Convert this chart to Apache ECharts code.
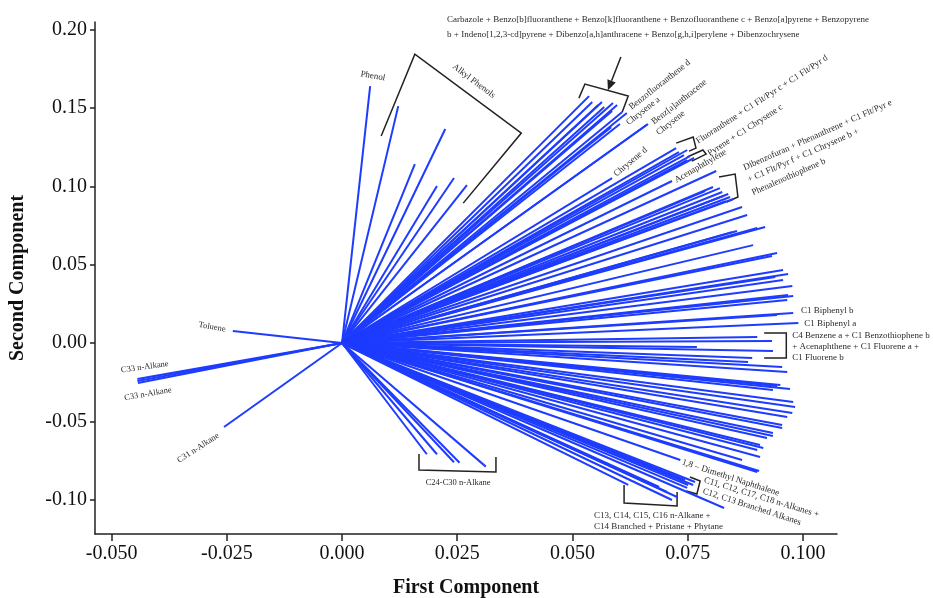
<!DOCTYPE html>
<html><head><meta charset="utf-8">
<script src="https://cdn.jsdelivr.net/npm/echarts@6/dist/echarts.min.js"></script>
<style>html,body{margin:0;padding:0;background:#fff}#c{width:933px;height:598px}</style>
</head><body><div id="c"></div>
<script>
// Loadings [First Component, Second Component]
const tolueneAndHeavyAlkanes = [[-0.0237,0.0077],[-0.0444,-0.0230],[-0.0444,-0.0243],[-0.0443,-0.0255],[-0.0256,-0.0536]];
const phenols = [[0.0061,0.1640],[0.0122,0.1512],[0.0224,0.1366],[0.0158,0.1142],[0.0206,0.1002],[0.0243,0.1053],[0.0271,0.1008]];
const c24c30Alkanes = [[0.0184,-0.0710],[0.0206,-0.0710],[0.0243,-0.0761],[0.0255,-0.0764],[0.0312,-0.0789]];
const heavyPAHs = [[0.0536,0.1576],[0.0543,0.1538],[0.0556,0.1519],[0.0564,0.1538],[0.0569,0.1506],[0.0588,0.1532],[0.0597,0.1519],[0.0586,0.1481],[0.0608,0.1474],[0.0618,0.1468],[0.0603,0.1398],[0.0664,0.1398],[0.0662,0.1395],[0.0584,0.1378],[0.0586,0.1053]];
const midPAHs = [[0.0725,0.1244],[0.0731,0.1219],[0.0749,0.1232],[0.0742,0.1200],[0.0755,0.1193],[0.0749,0.1168],[0.0764,0.1181],[0.0716,0.1034],[0.0812,0.1098],[0.0788,0.0970],[0.0805,0.0996],[0.0820,0.0989],[0.0825,0.0964],[0.0838,0.0951],[0.0842,0.0932],[0.0827,0.0938],[0.0849,0.0919],[0.0833,0.0906]];
const lightAromatics = [[0.0868,0.0868],[0.0879,0.0817],[0.0857,0.0715],[0.0846,0.0708],[0.0918,0.0740],[0.0901,0.0734],[0.0892,0.0625],[0.0944,0.0574],[0.0933,0.0555],[0.0957,0.0466],[0.0940,0.0421],[0.0968,0.0440],[0.0957,0.0402],[0.0977,0.0364],[0.0968,0.0306],[0.0979,0.0300],[0.0966,0.0274],[0.0979,0.0191],[0.0944,0.0179],[0.0990,0.0128],[0.0901,0.0038],[0.0933,0.0013],[0.0770,-0.0026],[0.0935,-0.0051],[0.0890,-0.0096],[0.0881,-0.0121],[0.0955,-0.0153],[0.0966,-0.0185],[0.0951,-0.0268],[0.0944,-0.0274],[0.0972,-0.0294],[0.0935,-0.0300],[0.0979,-0.0377],[0.0983,-0.0408],[0.0977,-0.0447],[0.0966,-0.0472],[0.0955,-0.0523],[0.0955,-0.0542],[0.0935,-0.0574],[0.0935,-0.0593],[0.0922,-0.0606],[0.0907,-0.0651],[0.0914,-0.0670],[0.0901,-0.0683],[0.0907,-0.0727],[0.0868,-0.0747],[0.0905,-0.0817],[0.0901,-0.0823],[0.0734,-0.0747]];
const lightAlkanes = [[0.0744,-0.0874],[0.0751,-0.0906],[0.0762,-0.0906],[0.0766,-0.0887],[0.0749,-0.0925],[0.0829,-0.1053],[0.0621,-0.0906],[0.0688,-0.0919],[0.0705,-0.0951],[0.0716,-0.1002],[0.0727,-0.0983]];

const xTicks = [-0.05,-0.025,0,0.025,0.05,0.075,0.1];
const yTicks = [-0.10,-0.05,0,0.05,0.10,0.15,0.20];

// Annotations (data coordinates)
const brackets = [
 [[0.0085,0.1321],[0.0158,0.1844],[0.0389,0.1340],[0.0263,0.0893]],
 [[0.0514,0.1563],[0.0527,0.1653],[0.0621,0.1576],[0.0608,0.1474]],
 [[0.0725,0.1276],[0.0762,0.1315],[0.0768,0.1244],[0.0753,0.1225]],
 [[0.0749,0.1187],[0.0783,0.1232],[0.0790,0.1206],[0.0759,0.1161]],
 [[0.0818,0.1059],[0.0853,0.1078],[0.0859,0.0932],[0.0835,0.0900]],
 [[0.0916,0.0064],[0.0964,0.0064],[0.0964,-0.0096],[0.0916,-0.0096]],
 [[0.0755,-0.0855],[0.0777,-0.0881],[0.0770,-0.0964],[0.0747,-0.0944]],
 [[0.0612,-0.0906],[0.0612,-0.1021],[0.0727,-0.1040],[0.0727,-0.0951]],
 [[0.0167,-0.0708],[0.0167,-0.0810],[0.0334,-0.0823],[0.0334,-0.0727]]
];
const labels = [
 ['Phenol',0.0067,0.1704,-10,'center',9],
 ['Alkyl Phenols',0.0286,0.1672,-37,'center',9],
 ['Carbazole + Benzo[b]fluoranthene + Benzo[k]fluoranthene + Benzofluoranthene c + Benzo[a]pyrene + Benzopyrene',0.0228,0.2061,0,'left',9],
 ['b + Indeno[1,2,3-cd]pyrene + Dibenzo[a,h]anthracene + Benzo[g,h,i]perylene + Dibenzochrysene',0.0228,0.1966,0,'left',9],
 ['Benzofluoranthene d',0.0625,0.1500,38,'left',9],
 ['Chrysene a',0.0619,0.1402,38,'left',9],
 ['Benz[a]anthracene',0.0674,0.1406,38,'left',9],
 ['Chrysene',0.0684,0.1338,38,'left',9],
 ['Chrysene d',0.0592,0.1072,40,'left',9],
 ['Fluoranthene + C1 Flt/Pyr c + C1 Flt/Pyr d',0.0770,0.1285,33,'left',9],
 ['Pyrene + C1 Chrysene c',0.0795,0.1206,33,'left',9],
 ['Acenaphthylene',0.0723,0.1036,30,'left',9],
 ['Dibenzofuran + Phenanthrene + C1 Flt/Pyr e',0.0872,0.1117,24,'left',9],
 ['+ C1 Flt/Pyr f + C1 Chrysene b +',0.0881,0.1040,24,'left',9],
 ['Phenalenothiophene b',0.0890,0.0957,24,'left',9],
 ['C1 Biphenyl b',0.0996,0.0204,0,'left',9],
 ['C1 Biphenyl a',0.1003,0.0121,0,'left',9],
 ['C4 Benzene a + C1 Benzothiophene b',0.0977,0.0045,0,'left',9],
 ['+ Acenaphthene + C1 Fluorene a +',0.0977,-0.0026,0,'left',9],
 ['C1 Fluorene b',0.0977,-0.0096,0,'left',9],
 ['1,8 \u2013 Dimethyl Naphthalene',0.0738,-0.0759,-18,'left',9],
 ['C11, C12, C17, C18 n-Alkanes +',0.0786,-0.0874,-17,'left',9],
 ['C12, C13 Branched Alkanes',0.0783,-0.0944,-18,'left',9],
 ['C13, C14, C15, C16 n-Alkane +',0.0547,-0.1104,0,'left',9],
 ['C14 Branched + Pristane + Phytane',0.0547,-0.1174,0,'left',9],
 ['C24-C30 n-Alkane',0.0252,-0.0893,0,'center',8.5],
 ['Toluene',-0.0282,0.0102,-10,'center',8.5],
 ['C33 n-Alkane',-0.0428,-0.0153,8,'center',8.5],
 ['C33 n-Alkane',-0.0421,-0.0325,10,'center',8.5],
 ['C31 n-Alkane',-0.0312,-0.0670,33,'center',8.5]
];
const arrow = [[0.0605,0.1825],[0.0577,0.1614]];

const SERIF = '"Liberation Serif","Times New Roman",serif';
const BLUE = '#1e3cff';
const groups = [tolueneAndHeavyAlkanes, phenols, c24c30Alkanes, heavyPAHs, midPAHs, lightAromatics, lightAlkanes];

const chart = echarts.init(document.getElementById('c'), null, {renderer:'canvas'});
chart.setOption({
  animation:false,
  backgroundColor:'#fff',
  grid:{left:95,right:96,top:22,bottom:64,containLabel:false},
  xAxis:{type:'value',min:-0.0536,max:0.1074,
    axisLine:{show:true,onZero:false,lineStyle:{color:'#222',width:1.5}},
    axisTick:{show:true,customValues:xTicks,length:7,lineStyle:{color:'#222',width:1.5}},
    axisLabel:{customValues:xTicks,formatter:v=>v.toFixed(3),fontSize:20,fontFamily:SERIF,color:'#111',margin:10},
    splitLine:{show:false}},
  yAxis:{type:'value',min:-0.1219,max:0.2049,
    axisLine:{show:true,onZero:false,lineStyle:{color:'#222',width:1.5}},
    axisTick:{show:true,customValues:yTicks,length:5,lineStyle:{color:'#222',width:1.5}},
    axisLabel:{customValues:yTicks,formatter:v=>v.toFixed(2),fontSize:20,fontFamily:SERIF,color:'#111',margin:8},
    splitLine:{show:false}},
  series: groups.map(g=>({type:'lines',coordinateSystem:'cartesian2d',silent:true,
    lineStyle:{color:BLUE,width:2,opacity:1},
    data:g.map(p=>({coords:[[0,0],p]}))}))
});

function px(p){return chart.convertToPixel({gridIndex:0},p);}
const gfx = [];
brackets.forEach(b=>{
  gfx.push({type:'polyline',shape:{points:b.map(px)},style:{stroke:'#222',lineWidth:1.5,fill:null},silent:true});
});
labels.forEach(l=>{
  const p = px([l[1],l[2]]);
  gfx.push({type:'text',x:p[0],y:p[1],rotation:l[3]*Math.PI/180,silent:true,
    style:{text:l[0],fill:'#2a2a2a',fontSize:l[5],fontFamily:SERIF,align:l[4],verticalAlign:'middle'}});
});
{
  const a = px(arrow[0]), b = px(arrow[1]);
  const dx=b[0]-a[0], dy=b[1]-a[1], L=Math.hypot(dx,dy), ux=dx/L, uy=dy/L;
  const hl=10, hw=4.5;
  const base=[b[0]-ux*hl,b[1]-uy*hl];
  gfx.push({type:'line',shape:{x1:a[0],y1:a[1],x2:base[0],y2:base[1]},style:{stroke:'#222',lineWidth:1.5},silent:true});
  gfx.push({type:'polygon',shape:{points:[b,[base[0]-uy*hw,base[1]+ux*hw],[base[0]+uy*hw,base[1]-ux*hw]]},style:{fill:'#222'},silent:true});
}
gfx.push({type:'text',x:466,y:588,silent:true,style:{text:'First Component',fontSize:20,fontWeight:'bold',fontFamily:SERIF,fill:'#111',align:'center',verticalAlign:'middle'}});
gfx.push({type:'text',x:18,y:278,rotation:Math.PI/2,silent:true,style:{text:'Second Component',fontSize:20,fontWeight:'bold',fontFamily:SERIF,fill:'#111',align:'center',verticalAlign:'middle'}});
chart.setOption({graphic:gfx});
</script>
</body></html>
